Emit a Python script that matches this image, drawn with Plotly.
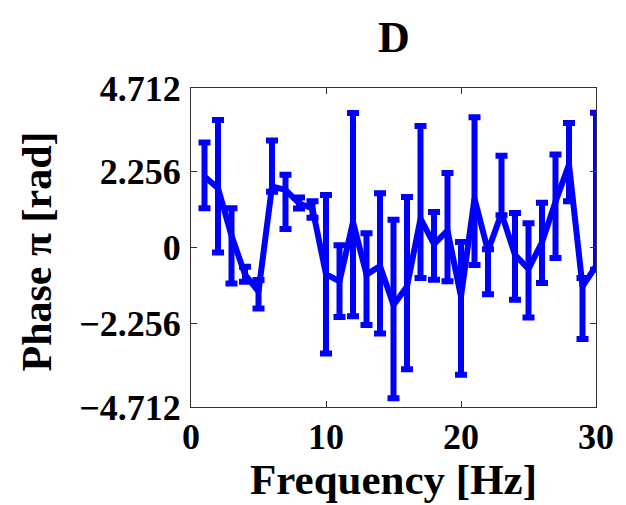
import plotly.graph_objects as go

freq = list(range(1, 31))
phase_mean = [2.10, 1.75, 0.35, -0.80, -1.30, 1.80, 1.70, 1.31, 1.15, -0.79,
              -1.00, 0.75, -0.80, -0.55, -1.70, -1.15, 0.85, 0.10, 0.50, -1.45,
              1.45, -0.10, 1.01, -0.22, -0.63, 0.15, 1.35, 2.45, -1.15, -0.55]
phase_upper = [3.10, 3.77, 1.16, -0.57, -0.96, 3.16, 2.15, 1.48, 1.37, 1.55,
               0.07, 3.97, 0.42, 1.60, 0.82, 1.49, 3.59, 1.05, 2.20, 0.16,
               3.85, -0.05, 2.71, 1.02, 0.72, 1.32, 2.75, 3.68, -0.90, 3.98]
phase_lower = [1.16, -0.15, -1.06, -1.01, -1.80, 1.65, 0.55, 1.15, 0.88, -3.13,
               -2.05, -2.03, -2.29, -2.54, -4.45, -3.60, -0.90, -0.95, -1.00, -3.76,
               -0.52, -1.38, 0.95, -1.54, -2.07, -1.05, -0.31, 1.37, -2.70, -0.66]
ytick_vals = [-4.712, -2.256, 0, 2.256, 4.712]
ytick_text = ["\u22124.712", "\u22122.256", "0", "2.256", "4.712"]
xtick_vals = [0, 10, 20, 30]

err_plus = [u - m for u, m in zip(phase_upper, phase_mean)]
err_minus = [m - l for m, l in zip(phase_mean, phase_lower)]

FONT = "Liberation Serif"
BLUE = "#0000FF"

fig = go.Figure()
fig.add_trace(go.Scatter(
    x=freq, y=phase_mean, mode="lines",
    line=dict(color=BLUE, width=6),
    error_y=dict(type="data", symmetric=False, array=err_plus, arrayminus=err_minus,
                 color=BLUE, thickness=6, width=6),
    showlegend=False,
))

axis_common = dict(
    showline=True, linecolor="#333333", linewidth=1.3, mirror="ticks",
    ticks="inside", ticklen=6, tickcolor="#333333", tickwidth=1,
    showgrid=False, zeroline=False,
    tickfont=dict(family=FONT, size=36, color="black", weight="bold"),
)

fig.update_layout(
    width=626, height=505,
    margin=dict(l=191, r=28, t=88, b=98),
    paper_bgcolor="white", plot_bgcolor="white",
    xaxis=dict(range=[0, 30], tickvals=xtick_vals, ticklabelstandoff=-2, **axis_common),
    yaxis=dict(range=[-4.712, 4.712], tickvals=ytick_vals, ticktext=ytick_text,
               ticklabelstandoff=2, **axis_common),
    annotations=[
        dict(text="D", x=0.5, y=1, xref="paper", yref="paper", xanchor="center",
             yanchor="bottom", yshift=24, showarrow=False,
             font=dict(family=FONT, size=44, color="black", weight="bold")),
        dict(text="Frequency [Hz]", x=0.5, y=0, xref="paper", yref="paper",
             xanchor="center", yanchor="top", yshift=-47, showarrow=False,
             font=dict(family=FONT, size=43, color="black", weight="bold")),
        dict(text="Phase \u03c0 [rad]", x=0, y=0.5, xref="paper", yref="paper",
             xanchor="right", yanchor="middle", xshift=-130, yshift=-4,
             textangle=-90, showarrow=False,
             font=dict(family=FONT, size=42, color="black", weight="bold")),
    ],
)

fig.write_html("out.html")
